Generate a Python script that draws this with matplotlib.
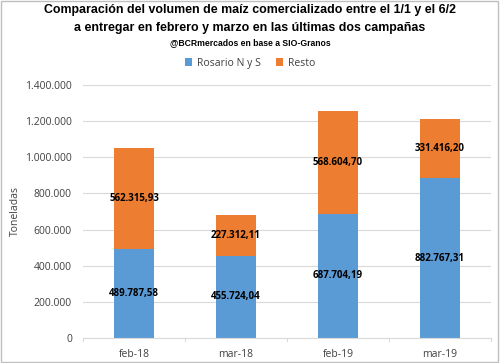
import matplotlib.pyplot as plt
import numpy as np
from matplotlib.patches import Rectangle

categorias = ['feb-18', 'mar-18', 'feb-19', 'mar-19']
rosario = [489787.58, 455724.04, 687704.19, 882767.31]
resto = [562315.93, 227312.11, 568604.70, 331416.20]
yticks = [0, 200000, 400000, 600000, 800000, 1000000, 1200000, 1400000]

azul = '#5B9BD5'
naranja = '#ED7D31'


def fmt_miles(v, dec=0):
    s = f'{v:,.{dec}f}'
    return s.replace(',', 'X').replace('.', ',').replace('X', '.')


plt.rcParams['font.family'] = ['Open Sans', 'DejaVu Sans']
titulo_font = ['Liberation Sans Narrow', 'Liberation Sans', 'DejaVu Sans']

fig = plt.figure(figsize=(5, 3.63), dpi=100)
ax = fig.add_axes([0.166, 0.069, 0.816, 0.697])

x = np.arange(len(categorias))
w = 0.39
b1 = ax.bar(x, rosario, w, color=azul, label='Rosario N y S', zorder=2)
b2 = ax.bar(x, resto, w, bottom=rosario, color=naranja, label='Resto', zorder=2)

for i in range(len(categorias)):
    ax.text(x[i], rosario[i] / 2, fmt_miles(rosario[i], 2), ha='center', va='center',
            fontsize=7, fontweight='bold', color='black', zorder=3)
    ax.text(x[i], rosario[i] + resto[i] / 2, fmt_miles(resto[i], 2), ha='center', va='center',
            fontsize=7, fontweight='bold', color='black', zorder=3)

ax.set_xlim(-0.5, len(categorias) - 0.5)
ax.set_ylim(0, 1400000)
ax.set_yticks(yticks)
ax.set_yticklabels([fmt_miles(v) for v in yticks], fontsize=7.5, color='#404040')
ax.set_xticks(x)
ax.set_xticklabels(categorias, fontsize=7.5, color='#404040')
ax.yaxis.grid(True, color='#D9D9D9', linewidth=0.8, zorder=0)
for s in ['top', 'right', 'left']:
    ax.spines[s].set_visible(False)
ax.spines['bottom'].set_color('#D9D9D9')
ax.tick_params(axis='y', length=0, pad=8)
ax.tick_params(axis='x', length=0, pad=8)
# small separators between categories on the x axis
for xs in np.arange(-0.5, len(categorias)):
    ax.plot([xs, xs], [0, -15000], color='#D9D9D9', lw=0.8, clip_on=False)
ax.set_ylabel('Toneladas', fontsize=7.5, color='#404040', labelpad=3)

fig.text(0.5, 0.972, 'Comparación del volumen de maíz comercializado entre el 1/1 y el 6/2',
         ha='center', va='center', fontsize=8.9, fontweight='bold', family=titulo_font)
fig.text(0.5, 0.922, 'a entregar en febrero y marzo en las últimas dos campañas',
         ha='center', va='center', fontsize=8.9, fontweight='bold', family=titulo_font)
fig.text(0.5, 0.882, '@BCRmercados en base a SIO-Granos',
         ha='center', va='center', fontsize=6.2, fontweight='bold', family=titulo_font)

fig.legend(handles=[b1, b2], loc='center', bbox_to_anchor=(0.5, 0.826), ncol=2,
           frameon=False, fontsize=7.5, handlelength=0.7, handleheight=0.7,
           columnspacing=1.5, handletextpad=0.4, labelcolor='#404040')

fig.patches.append(Rectangle((0.002, 0.003), 0.994, 0.994, transform=fig.transFigure,
                             fill=False, edgecolor='#BFBFBF', lw=1))

fig.savefig('out.png', dpi=100)
